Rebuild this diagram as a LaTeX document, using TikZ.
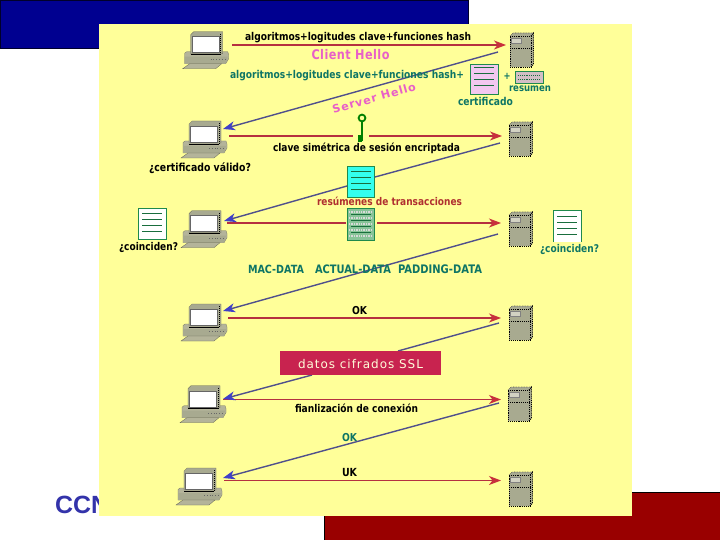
\documentclass[tikz,border=0pt]{standalone}
\usepackage{fontspec}
\usepackage{graphicx}
\setmainfont{DejaVu Sans}
\newfontfamily\arialb[BoldFont={Liberation Sans Bold}]{Liberation Sans}
\usetikzlibrary{arrows.meta}
\definecolor{bgyellow}{HTML}{FFFF99}
\definecolor{topblue}{HTML}{000090}
\definecolor{botred}{HTML}{990000}
\definecolor{redline}{HTML}{B53040}
\definecolor{redtip}{HTML}{C8303C}
\definecolor{blueline}{HTML}{50508C}
\definecolor{bluetip}{HTML}{4040C8}
\definecolor{tealtxt}{HTML}{0E7565}
\definecolor{pinktxt}{HTML}{E860C8}
\definecolor{darkred}{HTML}{B03030}
\definecolor{boxred}{HTML}{C8234F}
\definecolor{docgreen}{HTML}{1F8A4C}
\definecolor{keygreen}{HTML}{008000}
\definecolor{gray1}{HTML}{A8AA90}
\definecolor{gray2}{HTML}{B4B49A}
\definecolor{certpink}{HTML}{F2C8F0}
\definecolor{cyandoc}{HTML}{33FFEE}
\definecolor{greendocfill}{HTML}{88C498}
\definecolor{ccnblue}{HTML}{3333AA}
\newcommand{\fitw}[2]{\scalebox{1}[1.18]{\resizebox{#1bp}{!}{\bfseries\strut #2}}}
\tikzset{
  x=1bp,y=-1bp,
  lab/.style={anchor=west,inner sep=0pt,outer sep=0pt,yshift=-1.4bp},
  redarrow/.style={draw=redline,line width=1.2bp,-{Stealth[length=12bp,width=9bp,inset=3.5bp,color=redtip]}},
  redplain/.style={draw=redline,line width=1.2bp},
  bluearrow/.style={draw=blueline,line width=1.4bp,-{Stealth[length=12bp,width=9bp,inset=3.5bp,color=bluetip]}},
  blueplain/.style={draw=blueline,line width=1.4bp},
  docbox/.style={draw=docgreen,line width=1bp},
  docline/.style={draw=docgreen!80!black,line width=0.9bp},
  computer/.pic={
    \path[fill=gray2,draw=gray1!70!black,line width=0.3bp] (-6,21.5) -- (-4,20) -- (37,20) -- (38,23) -- (38,27) -- (35,32) -- (-6,32) -- cycle;
    \path[fill=gray1] (-6,25) -- (37,25) -- (35,32) -- (-6,32) -- cycle;
    \draw[black!60,dotted,line width=0.8bp] (20,27.5) -- (34,27.5);
    \path[fill=gray2,draw=gray1!60!black,line width=0.3bp] (-1,32) -- (31,32) -- (25,37) -- (-8,37) -- cycle;
    \path[fill=gray1,draw=gray1!60!black,line width=0.3bp] (0,3) -- (3,0) -- (32,0) -- (32,22) -- (0,22) -- cycle;
    \path[fill=white,draw=black!60,line width=0.4bp] (1.5,5) -- (28,5) -- (28,21) -- (1.5,21) -- cycle;
    \draw[black,line width=0.8bp] (0,23) -- (30,23);
    \draw[black,densely dotted,line width=1bp] (30,2) -- (30,22);
  },
  server/.pic={
    \path[fill=gray1] (0,3) -- (3,0) -- (23.5,0) -- (23.5,31) -- (21,34) -- (0,34) -- cycle;
    \draw[black,densely dotted,line width=0.9bp] (0,3) -- (21,3) -- (21,34) -- (0,34) -- cycle;
    \draw[black,densely dotted,line width=0.9bp] (21,3) -- (23.5,0) -- (23.5,31) -- (21,34);
    \draw[black!70,densely dotted,line width=0.6bp] (0,3) -- (3,0) -- (23.5,0);
    \draw[black,densely dotted,line width=0.9bp] (0,15) -- (21,15);
    \path[fill=gray2!60!white,draw=black!50,line width=0.3bp] (1,5) rectangle (11,10);
  },
  doclines/.pic={
    \draw[docline] (4,6) -- (24,6);
    \draw[docline] (4,12) -- (24,12);
    \draw[docline] (4,18) -- (24,18);
    \draw[docline] (4,24) -- (24,24);
  },
}
\begin{document}
\begin{tikzpicture}
\useasboundingbox (0,0) rectangle (720,540);
% slide background
\path[fill=white] (0,0) rectangle (720,540);
\path[fill=topblue,draw=black!70!topblue,line width=0.8bp] (0.4,0.4) rectangle (468,48);
\path[fill=botred] (324,492) rectangle (720,540);
\draw[black,line width=0.7bp] (324,492) -- (720,492);
\draw[black,line width=0.7bp] (324,492) -- (324,540);
\node[anchor=west,inner sep=0pt,font=\arialb\bfseries\fontsize{25}{25}\selectfont,text=ccnblue] (ccna) at (55,504.5) {CCNA};
\path[fill=bgyellow] (99,24) rectangle (632,516);

% computers and servers
\pic at (190.7,31.7) {computer};
\pic at (189,121) {computer};
\pic at (189,210.7) {computer};
\pic at (189,304) {computer};
\pic at (188,385.7) {computer};
\pic at (184,468) {computer};
\pic at (510,33) {server};
\pic at (509,122) {server};
\pic at (509,212) {server};
\pic at (509,306) {server};
\pic at (508,387) {server};
\pic at (509,472) {server};

% connector ends
\coordinate (c1) at (232,45);   \coordinate (s1) at (506,45);
\coordinate (s1b) at (498,52);  \coordinate (c2b) at (223,129);
\coordinate (c2) at (229,136);  \coordinate (k1) at (353,136);
\coordinate (k2) at (369,136);  \coordinate (s2) at (502,136);
\coordinate (s2b) at (500,143); \coordinate (d1) at (375,177);
\coordinate (d2) at (347,186);  \coordinate (c3b) at (224,221);
\coordinate (c3) at (227,223);  \coordinate (g1) at (346,223);
\coordinate (g2) at (377,223);  \coordinate (s3) at (501,223);
\coordinate (s3b) at (498,234); \coordinate (c4b) at (223,311);
\coordinate (c4) at (228,318);  \coordinate (s4) at (501,318);
\coordinate (s4b) at (499,323); \coordinate (b1) at (398,351);
\coordinate (b2) at (312,375);  \coordinate (c5b) at (223,399);
\coordinate (c5) at (223,399.5);\coordinate (s5) at (501,399.5);
\coordinate (s5b) at (499,403); \coordinate (c6b) at (223,478);
\coordinate (c6) at (224,480.5);\coordinate (s6) at (501,480.5);

% documents
\node[docbox,fill=certpink,minimum width=28bp,minimum height=30bp,inner sep=0pt,anchor=north west] (cert) at (470,64) {};
\pic at (470,61) {doclines};
\node[docbox,fill=gray2!50!certpink,minimum width=28bp,minimum height=12bp,inner sep=0pt,anchor=north west] (resu) at (515,71) {};
\draw[docline,densely dotted] (518,75) -- (540,75);
\draw[docline,densely dotted] (518,79) -- (540,79);
\node[draw=docgreen,line width=1bp,fill=cyandoc,minimum width=27bp,minimum height=31bp,inner sep=0pt,anchor=north west] (cyanbox) at (347,166) {};
\pic at (347,165) {doclines};
\node[docbox,fill=greendocfill,minimum width=27bp,minimum height=32bp,inner sep=0pt,anchor=north west] (greendoc) at (347,208) {};
\foreach \yy in {212,218,224,230,236} {\draw[white!70!gray,densely dotted,line width=1.4bp] (349,\yy) -- (372,\yy);}
\pic at (347,208) {doclines};
\node[docbox,fill=white,minimum width=28bp,minimum height=31bp,inner sep=0pt,anchor=north west] (ldoc) at (138,208) {};
\pic at (138,207) {doclines};
\path[fill=white] (553,211) rectangle (581,242);
\draw[docbox] (553,242) -- (553,211) -- (581,211) -- (581,242);
\pic at (553,210) {doclines};

% connectors
\draw[redarrow] (c1) -- (s1);
\draw[bluearrow] (s1b) -- (c2b);
\draw[redplain] (c2) -- (k1);
\draw[redarrow] (k2) -- (s2);
\draw[blueplain] (s2b) -- (d1);
\draw[bluearrow] (d2) -- (c3b);
\draw[redplain] (c3) -- (g1);
\draw[redarrow] (g2) -- (s3);
\draw[bluearrow] (s3b) -- (c4b);
\draw[redarrow] (c4) -- (s4);
\draw[blueplain] (s4b) -- (b1);
\draw[redarrow] (c5) -- (s5);
\draw[bluearrow] (b2) -- (c5b);
\draw[redarrow] (c6) -- (s6);
\draw[bluearrow] (s5b) -- (c6b);

% key
\draw[keygreen,line width=1.8bp] (362,118) circle (3.4);
\draw[keygreen,line width=1.8bp] (362,121.5) -- (362,141);
\path[fill=keygreen] (358,135) -- (362,135) -- (362,142) -- (358,142) -- cycle;

% red box
\node[fill=boxred,minimum width=161bp,minimum height=24bp,inner sep=0pt,anchor=north west] (ssl) at (280,351) {};
\node[lab,text=yellow!15!white] (ssltxt) at (298,364) {\resizebox{125bp}{!}{\addfontfeature{LetterSpace=8}\strut datos cifrados SSL}};

% labels
\node[lab,text=black] (t1) at (245,37) {\fitw{226}{algoritmos+logitudes clave+funciones hash}};
\node[lab,text=pinktxt] (t2) at (311.5,55) {\fitw{78}{\addfontfeature{LetterSpace=4}Client Hello}};
\node[lab,text=tealtxt] (t3) at (230,75) {\fitw{234}{algoritmos+logitudes clave+funciones hash+}};
\node[inner sep=0pt,text=pinktxt,rotate=15.7] (t4) at (374,98) {\resizebox{86bp}{!}{\bfseries\addfontfeature{LetterSpace=8}Server Hello}};
\node[lab,text=tealtxt] (t5) at (503.5,76) {\fitw{7}{+}};
\node[lab,text=tealtxt] (t6) at (509,88) {\fitw{42}{resumen}};
\node[lab,text=tealtxt] (t7) at (458,102) {\fitw{55}{certificado}};
\node[lab,text=black] (t8) at (273,148) {\fitw{187}{clave simétrica de sesión encriptada}};
\node[lab,text=black] (t9) at (149,167) {\fitw{102}{¿certificado válido?}};
\node[lab,text=darkred] (t10) at (317,202) {\fitw{145}{resúmenes de transacciones}};
\node[lab,text=black] (t11) at (119,247) {\fitw{59}{¿coinciden?}};
\node[lab,text=tealtxt] (t12) at (540,249) {\fitw{59}{¿coinciden?}};
\node[lab,text=tealtxt] (t13) at (248,269) {\fitw{56}{MAC-DATA}};
\node[lab,text=tealtxt] (t14) at (315,269) {\fitw{76}{ACTUAL-DATA}};
\node[lab,text=tealtxt] (t15) at (398,269) {\fitw{84}{PADDING-DATA}};
\node[lab,text=black] (t16) at (352,310) {\fitw{15}{OK}};
\node[lab,text=black] (t17) at (295,409) {\fitw{123}{fianlización de conexión}};
\node[lab,text=tealtxt] (t18) at (342,437) {\fitw{15}{OK}};
\node[lab,text=black] (t19) at (342,472) {\fitw{15}{UK}};
\end{tikzpicture}
\end{document}
